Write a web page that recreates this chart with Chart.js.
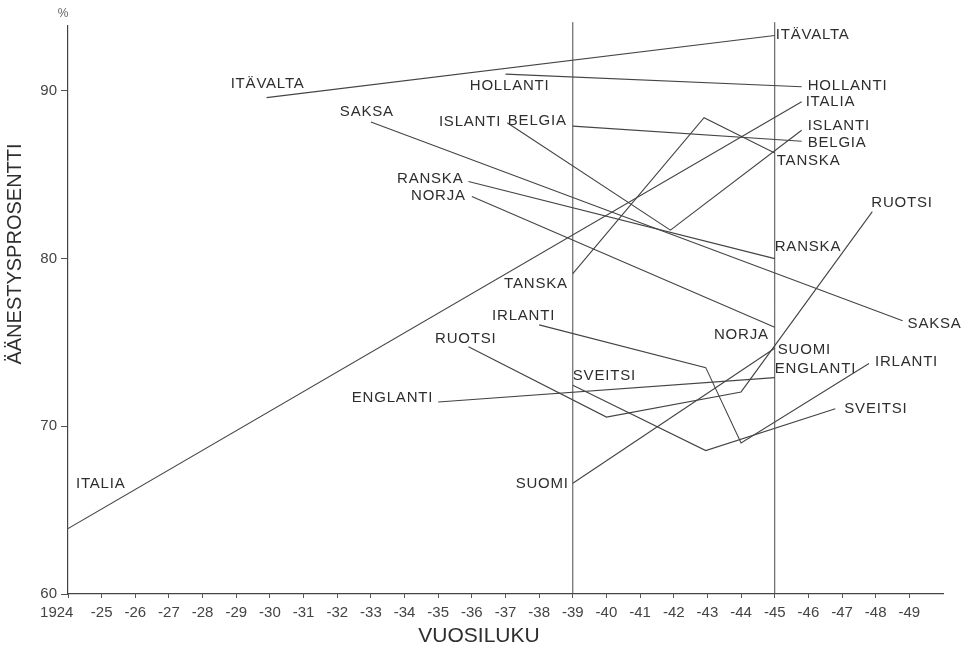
<!DOCTYPE html>
<html>
<head>
<meta charset="utf-8">
<script src="https://cdn.jsdelivr.net/npm/chart.js@4.4.1/dist/chart.umd.min.js"></script>
<style>
    body { margin: 0; background: #fff; }
    #wrap { width: 963px; height: 648px; position: relative; }
</style>
</head>
<body>
<div id="wrap"><canvas id="myChartTurnout"></canvas></div>
<script>
// [year, turnout %] pairs per country
var ITAVALTA = [[1929.9, 89.6], [1945, 93.3]];
var HOLLANTI = [[1937, 91.0], [1945.8, 90.25]];
var ITALIA = [[1924, 63.9], [1945.8, 89.35]];
var ISLANTI = [[1937.05, 88.1], [1941.9, 81.7], [1945.8, 87.65]];
var BELGIA = [[1939, 87.9], [1945.8, 87.0]];
var TANSKA = [[1939, 79.1], [1942.9, 88.4], [1945, 86.3]];
var RANSKA = [[1935.9, 84.6], [1945, 80.0]];
var NORJA = [[1936, 83.7], [1945, 75.9]];
var SAKSA = [[1933, 88.15], [1948.8, 76.3]];
var SUOMI = [[1939, 66.6], [1945, 74.65]];
var RUOTSI = [[1935.9, 74.75], [1940, 70.55], [1944, 72.05], [1947.9, 82.8]];
var SVEITSI = [[1939, 72.45], [1942.95, 68.55], [1946.8, 71.05]];
var ENGLANTI = [[1935, 71.45], [1945, 72.9]];
var IRLANTI = [[1938, 76.05], [1942.95, 73.5], [1944, 69.0], [1947.8, 73.75]];

var countryNames = ['ITÄVALTA', 'HOLLANTI', 'ITALIA', 'ISLANTI', 'BELGIA', 'TANSKA', 'RANSKA',
    'NORJA', 'SAKSA', 'SUOMI', 'RUOTSI', 'SVEITSI', 'ENGLANTI', 'IRLANTI'];
var countryPoints = [ITAVALTA, HOLLANTI, ITALIA, ISLANTI, BELGIA, TANSKA, RANSKA,
    NORJA, SAKSA, SUOMI, RUOTSI, SVEITSI, ENGLANTI, IRLANTI];

var markerYears = [1939, 1945];

var xTickValues = [1924, 1925, 1926, 1927, 1928, 1929, 1930, 1931, 1932, 1933, 1934, 1935, 1936,
    1937, 1938, 1939, 1940, 1941, 1942, 1943, 1944, 1945, 1946, 1947, 1948, 1949];
var xTickLabels = ['1924', '-25', '-26', '-27', '-28', '-29', '-30', '-31', '-32', '-33', '-34', '-35', '-36',
    '-37', '-38', '-39', '-40', '-41', '-42', '-43', '-44', '-45', '-46', '-47', '-48', '-49'];
var yTickValues = [60, 70, 80, 90];

// where each name is written, relative to the first / last point of its line
var labelPlaces = [
    { name: 'ITÄVALTA', end: 'first', align: 'right', dx: 38, dy: -14 },
    { name: 'HOLLANTI', end: 'first', align: 'right', dx: 44, dy: 12 },
    { name: 'SAKSA', end: 'first', align: 'right', dx: 23, dy: -10 },
    { name: 'ISLANTI', end: 'first', align: 'right', dx: -6, dy: -1 },
    { name: 'BELGIA', end: 'first', align: 'right', dx: -6, dy: -5 },
    { name: 'RANSKA', end: 'first', align: 'right', dx: -5, dy: -3 },
    { name: 'NORJA', end: 'first', align: 'right', dx: -6, dy: -1 },
    { name: 'TANSKA', end: 'first', align: 'right', dx: -5, dy: 10 },
    { name: 'IRLANTI', end: 'first', align: 'right', dx: 16, dy: -9 },
    { name: 'RUOTSI', end: 'first', align: 'right', dx: 28, dy: -8 },
    { name: 'SVEITSI', end: 'first', align: 'left', dx: 0, dy: -9 },
    { name: 'ENGLANTI', end: 'first', align: 'right', dx: -5, dy: -4 },
    { name: 'SUOMI', end: 'first', align: 'right', dx: -4, dy: 1 },
    { name: 'ITALIA', end: 'first', align: 'left', dx: 8, dy: -45 },
    { name: 'ITÄVALTA', end: 'last', align: 'left', dx: 1, dy: -1 },
    { name: 'HOLLANTI', end: 'last', align: 'left', dx: 6, dy: -1 },
    { name: 'ITALIA', end: 'last', align: 'left', dx: 4, dy: 0 },
    { name: 'ISLANTI', end: 'last', align: 'left', dx: 6, dy: -4 },
    { name: 'BELGIA', end: 'last', align: 'left', dx: 6, dy: 2 },
    { name: 'TANSKA', end: 'last', align: 'left', dx: 2, dy: 8 },
    { name: 'RUOTSI', end: 'last', align: 'left', dx: -1, dy: -9 },
    { name: 'RANSKA', end: 'last', align: 'left', dx: 0, dy: -12 },
    { name: 'SAKSA', end: 'last', align: 'left', dx: 5, dy: 3 },
    { name: 'NORJA', end: 'last', align: 'right', dx: -6, dy: 8 },
    { name: 'SUOMI', end: 'last', align: 'left', dx: 3, dy: 2 },
    { name: 'ENGLANTI', end: 'last', align: 'left', dx: 0, dy: -9 },
    { name: 'IRLANTI', end: 'last', align: 'left', dx: 6, dy: -2 },
    { name: 'SVEITSI', end: 'last', align: 'left', dx: 9, dy: 0 }
];

var lineColor = '#444444';
var textColor = '#2e2e2e';
var fontFamily = '"Liberation Sans", Arial, Helvetica, sans-serif';

function $each(arr, fn) {
    for (var i = 0; i < arr.length; i++) { fn(i, arr[i]); }
}

var datasets = [];
$each(countryNames, function (i, name) {
    datasets.push({
        label: name,
        data: countryPoints[i].map(function (p) { return { x: p[0], y: p[1] }; }),
        showLine: true,
        borderColor: lineColor,
        borderWidth: 1.1,
        pointRadius: 0,
        tension: 0
    });
});
$each(markerYears, function (i, yr) {
    datasets.push({
        label: 'marker' + yr,
        data: [{ x: yr, y: 60 }, { x: yr, y: 94.1 }],
        showLine: true,
        borderColor: '#4a4a4a',
        borderWidth: 1,
        pointRadius: 0,
        clip: false
    });
});

var labelPlugin = {
    id: 'countryLabels',
    afterDatasetsDraw: function (chart) {
        var ctx = chart.ctx;
        var xs = chart.scales.x;
        var ys = chart.scales.y;
        ctx.save();
        ctx.fillStyle = textColor;
        ctx.textBaseline = 'middle';
        ctx.font = '15px ' + fontFamily;
        if ('letterSpacing' in ctx) { ctx.letterSpacing = '0.8px'; }
        $each(labelPlaces, function (i, lp) {
            var pts = countryPoints[countryNames.indexOf(lp.name)];
            var p = lp.end == 'first' ? pts[0] : pts[pts.length - 1];
            ctx.textAlign = lp.align;
            ctx.fillText(lp.name, xs.getPixelForValue(p[0]) + lp.dx, ys.getPixelForValue(p[1]) + lp.dy);
        });
        if ('letterSpacing' in ctx) { ctx.letterSpacing = '0px'; }

        // axis titles
        ctx.textAlign = 'center';
        ctx.font = '21px ' + fontFamily;
        ctx.fillText('VUOSILUKU', 479, 636);
        ctx.save();
        ctx.translate(15, 254);
        ctx.rotate(-Math.PI / 2);
        ctx.font = '20px ' + fontFamily;
        ctx.fillText('ÄÄNESTYSPROSENTTI', 0, 0);
        ctx.restore();
        ctx.fillStyle = '#666';
        ctx.font = '12px ' + fontFamily;
        ctx.fillText('%', 63, 14);
        ctx.restore();
    }
};

const ctx = document.getElementById('myChartTurnout');
const myChart = new Chart(ctx, {
    type: 'scatter',
    data: { datasets: datasets },
    plugins: [labelPlugin],
    options: {
        responsive: true,
        maintainAspectRatio: false,
        animation: false,
        layout: { padding: { top: 25.5, right: 20, left: 0, bottom: 0 } },
        plugins: {
            legend: { display: false },
            tooltip: { enabled: false }
        },
        scales: {
            x: {
                type: 'linear',
                min: 1924,
                max: 1950,
                afterBuildTicks: function (scale) {
                    scale.ticks = xTickValues.map(function (v) { return { value: v }; });
                },
                afterFit: function (scale) { scale.height = 54; },
                ticks: {
                    autoSkip: false,
                    maxRotation: 0,
                    padding: 6,
                    color: '#444',
                    font: { family: fontFamily, size: 15 },
                    callback: function (value) {
                        var i = xTickValues.indexOf(value);
                        // the first year label sits left of its tick in the original
                        return i == 0 ? xTickLabels[i] + '\u2002\u2002\u2002' : xTickLabels[i];
                    }
                },
                grid: {
                    drawOnChartArea: false,
                    drawTicks: true,
                    tickLength: 4,
                    tickColor: '#555'
                },
                border: { display: true, color: '#444', width: 1.2 }
            },
            y: {
                type: 'linear',
                min: 60,
                max: 93.9,
                afterBuildTicks: function (scale) {
                    scale.ticks = yTickValues.map(function (v) { return { value: v }; });
                },
                afterFit: function (scale) { scale.width = 68; },
                ticks: {
                    padding: 4,
                    color: '#444',
                    font: { family: fontFamily, size: 15 }
                },
                grid: {
                    drawOnChartArea: false,
                    drawTicks: true,
                    tickLength: 7,
                    tickColor: '#555'
                },
                border: { display: true, color: '#444', width: 1.2 }
            }
        }
    }
});
</script>
</body>
</html>
